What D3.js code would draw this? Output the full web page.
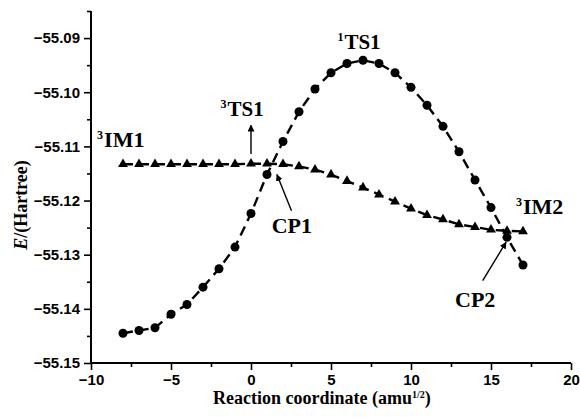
<!DOCTYPE html>
<html>
<head>
<meta charset="utf-8">
<script src="https://cdn.jsdelivr.net/npm/d3@7"></script>
<style>
  body { margin: 0; background: #fff; }
  .tick text { font-family: "Liberation Sans", Arial, sans-serif; font-weight: bold; font-size: 15px; }
  .lbl { font-family: "Liberation Serif", "Times New Roman", serif; font-weight: bold; }
</style>
</head>
<body>
<div id="chart"></div>
<script>
// data
var coord = [-8,-7,-6,-5,-4,-3,-2,-1,0,1,2,3,4,5,6,7,8,9,10,11,12,13,14,15,16,17];
var singlet = [-55.1445,-55.1440,-55.1435,-55.1410,-55.1392,-55.1360,-55.1326,-55.1286,-55.1224,-55.1152,
               -55.1091,-55.1036,-55.0994,-55.0964,-55.0947,-55.0941,-55.0947,-55.0964,-55.0991,-55.1024,
               -55.1063,-55.1110,-55.1162,-55.1213,-55.1268,-55.1319];
var triplet = [-55.1133,-55.1133,-55.1133,-55.1133,-55.1133,-55.1133,-55.1133,-55.1133,-55.1132,-55.1132,
               -55.1133,-55.1137,-55.1143,-55.1152,-55.1164,-55.1176,-55.1189,-55.1202,-55.1215,-55.1227,
               -55.1235,-55.1244,-55.1249,-55.1254,-55.1256,-55.1257];
var xTicks = [-10,-5,0,5,10,15,20];
var yTicks = [-55.15,-55.14,-55.13,-55.12,-55.11,-55.10,-55.09];

// annotations: superscript, text, x, y (data units)
var labels = [
  {sup: "3", txt: "IM1", x: -9.62, y: -55.1102, size: 22},
  {sup: "3", txt: "TS1", x: -1.9,  y: -55.1043, size: 21},
  {sup: "1", txt: "TS1", x: 5.4,   y: -55.0921, size: 21},
  {sup: "",  txt: "CP1", x: 1.29,  y: -55.1260, size: 22},
  {sup: "3", txt: "IM2", x: 16.56, y: -55.1225, size: 22},
  {sup: "",  txt: "CP2", x: 12.75, y: -55.1397, size: 22}
];
var arrows = [
  {x1: 0,     y1: -55.1114, x2: 0,     y2: -55.1061},
  {x1: 2.53,  y1: -55.1219, x2: 1.62,  y2: -55.1152},
  {x1: 14.48, y1: -55.1348, x2: 15.94, y2: -55.1277}
];

var margin = {top: 11, right: 9, bottom: 55, left: 91},
    width = 580 - margin.left - margin.right,
    height = 418 - margin.top - margin.bottom;

var svg = d3.select("#chart")
  .append("svg")
    .attr("width", 580)
    .attr("height", 418);

var defs = svg.append("defs");
defs.append("marker")
    .attr("id", "head")
    .attr("viewBox", "0 0 10 10")
    .attr("refX", 9).attr("refY", 5)
    .attr("markerWidth", 7).attr("markerHeight", 7)
    .attr("markerUnits", "userSpaceOnUse")
    .attr("orient", "auto")
  .append("path")
    .attr("d", "M0,0 L10,5 L0,10 z")
    .attr("fill", "#000");

var g = svg.append("g")
    .attr("transform", "translate(" + margin.left + "," + margin.top + ")");

var x = d3.scaleLinear().domain([-10, 20]).range([0, width]);
var y = d3.scaleLinear().domain([-55.15, -55.085]).range([height, 0]);

// X axis: major ticks with labels, minor ticks between
g.append("g")
    .attr("transform", "translate(0," + height + ")")
    .call(d3.axisBottom(x).tickValues(xTicks).tickSize(7).tickPadding(4).tickFormat(d3.format("d")));
g.append("g")
    .attr("transform", "translate(0," + height + ")")
    .call(d3.axisBottom(x).tickValues(d3.range(-7.5, 20, 5)).tickSize(4).tickFormat(""));

// Y axis
g.append("g")
    .call(d3.axisLeft(y).tickValues(yTicks).tickSize(7).tickPadding(4).tickFormat(d3.format(".2f")));
g.append("g")
    .call(d3.axisLeft(y).tickValues(d3.range(-55.145, -55.085, 0.01)).tickSize(4).tickFormat(""));

g.selectAll(".domain").remove();
g.selectAll(".tick line").attr("stroke-width", 1.6);

// axis lines
g.append("line").attr("x1", -1).attr("x2", width).attr("y1", height).attr("y2", height)
  .attr("stroke", "#000").attr("stroke-width", 2);
g.append("line").attr("x1", 0).attr("x2", 0).attr("y1", 0).attr("y2", height)
  .attr("stroke", "#000").attr("stroke-width", 2);

var pts1 = coord.map(function(c, i) { return [c, singlet[i]]; });
var pts3 = coord.map(function(c, i) { return [c, triplet[i]]; });

var line = d3.line()
    .x(function(d) { return x(d[0]); })
    .y(function(d) { return y(d[1]); });

g.append("path").datum(pts1)
    .attr("d", line)
    .attr("fill", "none").attr("stroke", "#000")
    .attr("stroke-width", 2.4).attr("stroke-dasharray", "10,6");
g.append("path").datum(pts3)
    .attr("d", line)
    .attr("fill", "none").attr("stroke", "#000")
    .attr("stroke-width", 2.4).attr("stroke-dasharray", "10,6");

g.selectAll("circle.s1").data(pts1).enter().append("circle")
    .attr("class", "s1")
    .attr("cx", function(d) { return x(d[0]); })
    .attr("cy", function(d) { return y(d[1]); })
    .attr("r", 4.5)
    .attr("fill", "#000");

g.selectAll("path.s3").data(pts3).enter().append("path")
    .attr("class", "s3")
    .attr("d", d3.symbol().type(d3.symbolTriangle).size(42))
    .attr("transform", function(d) { return "translate(" + x(d[0]) + "," + y(d[1]) + ")"; })
    .attr("fill", "#000");

// arrows
g.selectAll("line.arr").data(arrows).enter().append("line")
    .attr("class", "arr")
    .attr("x1", function(d) { return x(d.x1); })
    .attr("y1", function(d) { return y(d.y1); })
    .attr("x2", function(d) { return x(d.x2); })
    .attr("y2", function(d) { return y(d.y2); })
    .attr("stroke", "#000").attr("stroke-width", 1.4)
    .attr("marker-end", "url(#head)");

// labels
var lab = g.selectAll("text.lbl").data(labels).enter().append("text")
    .attr("class", "lbl")
    .attr("x", function(d) { return x(d.x); })
    .attr("y", function(d) { return y(d.y); })
    .style("font-size", function(d) { return d.size + "px"; });
lab.filter(function(d) { return d.sup; }).append("tspan")
    .style("font-size", "12px")
    .attr("dy", -8)
    .text(function(d) { return d.sup; });
lab.append("tspan")
    .attr("dy", function(d) { return d.sup ? 8 : 0; })
    .attr("dx", function(d) { return d.sup ? 1 : 0; })
    .text(function(d) { return d.txt; });

// axis titles
var xt = svg.append("text")
    .attr("class", "lbl")
    .attr("x", 213).attr("y", 404)
    .style("font-size", "18px");
xt.append("tspan").text("Reaction coordinate  (amu");
xt.append("tspan").style("font-size", "10px").attr("dy", -6).text("1/2");
xt.append("tspan").attr("dy", 6).text(")");

var yt = svg.append("text")
    .attr("class", "lbl")
    .attr("transform", "translate(27,205) rotate(-90)")
    .attr("text-anchor", "middle")
    .style("font-size", "18px");
yt.append("tspan").style("font-style", "italic").text("E");
yt.append("tspan").text("/(Hartree)");
</script>
</body>
</html>
